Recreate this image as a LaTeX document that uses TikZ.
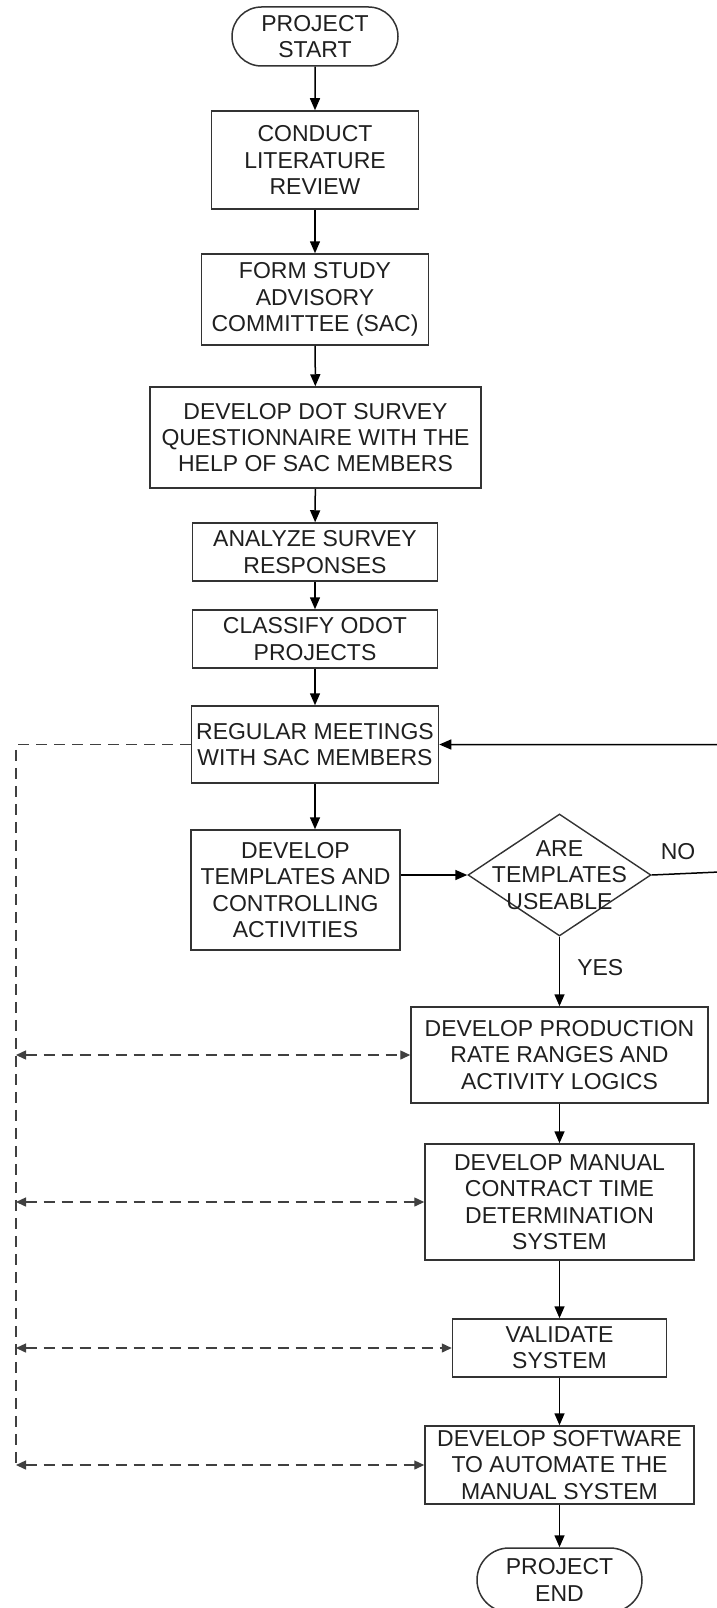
\documentclass[tikz,border=0pt]{standalone}
\usepackage{fontspec}
\setmainfont{Liberation Sans}
\usetikzlibrary{arrows.meta,shapes.geometric,shapes.misc}

\begin{document}
\begin{tikzpicture}[x=1pt,y=-1pt,
  font=\fontsize{23}{26.2}\selectfont,
  every node/.style={align=center, inner sep=0pt, text=black!88},
  proc/.style={draw=black!80, rectangle, line width=1.5pt},
  term/.style={draw=black!80, rounded rectangle, line width=1.5pt},
  decision/.style={draw=black!80, diamond, line width=1.4pt},
  flow/.style={-{Triangle[length=12pt,width=10pt]}, line width=1.5pt},
  link/.style={{Triangle[length=10pt,width=9pt]}-{Triangle[length=10pt,width=9pt]},
    line width=1.4pt, dash pattern=on 11pt off 7pt, draw=black!75},
  bus/.style={line width=1.4pt, dash pattern=on 11pt off 7pt, draw=black!75}
]
\useasboundingbox (0,0) rectangle (717,1608);

% main column
\node[term, minimum width=166pt, minimum height=59pt] (start) at (315,36.5) {PROJECT\\START};
\node[proc, minimum width=207pt, minimum height=98pt] (lit) at (315,160) {CONDUCT\\LITERATURE\\REVIEW};
\node[proc, minimum width=227pt, minimum height=91pt] (sac) at (315,299.5) {FORM STUDY\\ADVISORY\\COMMITTEE (SAC)};
\node[proc, minimum width=331pt, minimum height=101pt] (dot) at (315.5,437.5) {DEVELOP DOT SURVEY\\QUESTIONNAIRE WITH THE\\HELP OF SAC MEMBERS};
\node[proc, minimum width=245pt, minimum height=58pt] (ana) at (315,552) {ANALYZE SURVEY\\RESPONSES};
\node[proc, minimum width=245pt, minimum height=58pt] (cls) at (315,639) {CLASSIFY ODOT\\PROJECTS};
\node[proc, minimum width=247pt, minimum height=77pt] (reg) at (315,744.5) {REGULAR MEETINGS\\WITH SAC MEMBERS};
\node[proc, minimum width=209pt, minimum height=120pt] (tmpl) at (295.5,890) {DEVELOP\\TEMPLATES AND\\CONTROLLING\\ACTIVITIES};

% decision and lower column
\node[decision, minimum width=183pt, minimum height=122pt] (dia) at (559.5,875) {};
\node (diatext) at (dia.center) {ARE\\TEMPLATES\\USEABLE};
\node[proc, minimum width=297pt, minimum height=96pt] (prod) at (559.5,1055) {DEVELOP PRODUCTION\\RATE RANGES AND\\ACTIVITY LOGICS};
\node[proc, minimum width=269pt, minimum height=116pt] (man) at (559.5,1202) {DEVELOP MANUAL\\CONTRACT TIME\\DETERMINATION\\SYSTEM};
\node[proc, minimum width=214pt, minimum height=58pt] (val) at (559.5,1348) {VALIDATE\\SYSTEM};
\node[proc, minimum width=269pt, minimum height=78pt] (sw) at (559.5,1465) {DEVELOP SOFTWARE\\TO AUTOMATE THE\\MANUAL SYSTEM};
\node[term, minimum width=165pt, minimum height=64pt] (end) at (559.5,1580) {PROJECT\\END};

% flow connectors
\draw[flow] (start) -- (lit);
\draw[flow] (lit) -- (sac);
\draw[flow] (sac) -- (dot);
\draw[flow] (dot) -- (ana);
\draw[flow] (ana) -- (cls);
\draw[flow] (cls) -- (reg);
\draw[flow] (reg) -- (reg |- tmpl.north);
\draw[flow] (tmpl.east |- dia.west) -- (dia.west);
\draw[flow] (dia) -- node[pos=0.44, anchor=west, xshift=17pt] (yes) {YES} (prod);
\draw[flow] (dia.east) -- ++(90,-4) |- (reg.east);
\node (no) at (678,852) {NO};
\draw[flow] (prod) -- (man);
\draw[flow] (man) -- (val);
\draw[flow] (val) -- (sw);
\draw[flow] (sw) -- (end);

% dashed feedback bus on the left
\coordinate (bus) at (16,0);
\draw[bus] (reg.west) -| (bus |- sw.west);
\draw[link] (bus |- prod) -- (prod.west);
\draw[link] (bus |- man) -- (man.west);
\draw[link] (bus |- val) -- (val.west);
\draw[link] (bus |- sw) -- (sw.west);
\end{tikzpicture}
\end{document}
